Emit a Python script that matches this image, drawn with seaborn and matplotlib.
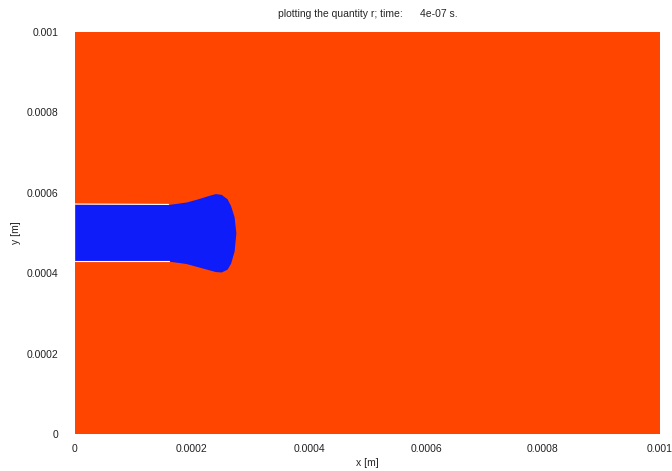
import matplotlib
matplotlib.use("Agg")
import matplotlib.pyplot as plt
import pandas as pd
import seaborn as sns

# jet outline (metres)
jet_x = [0.0, 0.00010, 0.00016, 0.00019, 0.00021, 0.00023, 0.00024,
         0.00025, 0.00026, 0.000266, 0.000272, 0.000275]
jet_top = [0.000572, 0.000572, 0.000571, 0.000577, 0.000585, 0.000594,
           0.000598, 0.000596, 0.000585, 0.000568, 0.000540, 0.000500]
jet_bottom = [0.000430, 0.000430, 0.000430, 0.000424, 0.000416, 0.000408,
              0.000404, 0.000403, 0.000410, 0.000425, 0.000455, 0.000500]

# thin white rims along the straight part of the jet
rim_x = [0.0, 0.00016]
rim_top = [0.000572, 0.000571]
rim_bottom = [0.000430, 0.000430]

tick_values = [0, 0.0002, 0.0004, 0.0006, 0.0008, 0.001]
tick_labels = ["0", "0.0002", "0.0004", "0.0006", "0.0008", "0.001"]

background_color = "#FF4500"
jet_color = "#0D1CF8"

sns.set_theme(style="white")
plt.rcParams["font.family"] = ["Liberation Sans", "DejaVu Sans"]

fig = plt.figure(figsize=(6.72, 4.71), dpi=100)
ax = fig.add_axes([0.1116, 0.0786, 0.8705, 0.8535])
ax.set_facecolor(background_color)

ax.fill_between(jet_x, jet_bottom, jet_top, color=jet_color, linewidth=0)

rims = pd.DataFrame({
    "x": rim_x * 2,
    "y": rim_top + rim_bottom,
    "edge": ["top"] * len(rim_x) + ["bottom"] * len(rim_x),
})
sns.lineplot(data=rims, x="x", y="y", units="edge", estimator=None,
             color="white", linewidth=0.8, ax=ax)

ax.set_xlim(0, 0.001)
ax.set_ylim(0, 0.001)
ax.set_xticks(tick_values)
ax.set_xticklabels(tick_labels)
ax.set_yticks(tick_values)
ax.set_yticklabels(tick_labels)
ax.tick_params(axis="both", length=0, labelsize=7.5, colors="#222222")
ax.tick_params(axis="x", pad=7)
ax.tick_params(axis="y", pad=12)
for spine in ax.spines.values():
    spine.set_visible(False)

ax.set_xlabel("x [m]", fontsize=7.5, labelpad=3)
ax.set_ylabel("y [m]", fontsize=7.5, labelpad=4)
ax.set_title("plotting the quantity r; time:      4e-07 s.", fontsize=7.5, pad=11)

fig.savefig("out.png", dpi=100)
